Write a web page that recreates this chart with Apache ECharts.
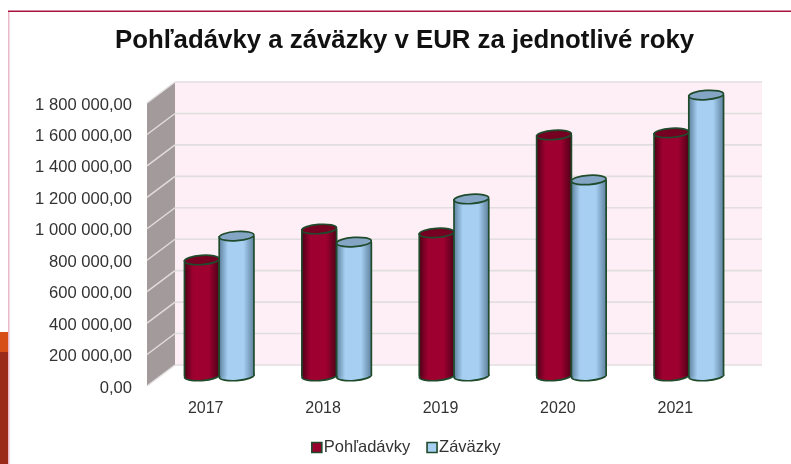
<!DOCTYPE html>
<html>
<head>
<meta charset="utf-8">
<style>html,body{margin:0;padding:0;background:#fff}#c{width:791px;height:464px;filter:blur(0.4px)}</style>
<script src="https://cdn.jsdelivr.net/npm/echarts@6/dist/echarts.min.js"></script>
</head>
<body>
<div id="c"></div>
<script>
const categories = ['2017', '2018', '2019', '2020', '2021'];
const pohladavky = [738000, 935000, 910000, 1533000, 1546000];
const zavazky = [890000, 852000, 1126000, 1247000, 1787000];
const tickValues = [0, 200000, 400000, 600000, 800000, 1000000, 1200000, 1400000, 1600000, 1800000];

const DEPTH_X = 28, DEPTH_Y = 21;   // wall depth in pixels
const BAR_DX = 13.5, BAR_DY = 10;   // cylinders stand mid-floor
const TILT = 0.07;                  // ellipse tilt of the 3D view

function fmt(v) {
  return String(v).replace(/\B(?=(\d{3})+$)/g, ' ') + ',00';
}
function grad(edge, mid) {
  return new echarts.graphic.LinearGradient(0, 0, 1, 0, [
    { offset: 0, color: edge }, { offset: 0.25, color: mid },
    { offset: 0.7, color: mid }, { offset: 1, color: edge }
  ]);
}
function cylinder(edge, mid, topColor, side) {
  return function (params, api) {
    const p = api.coord([api.value(0), api.value(1)]);
    const b = api.coord([api.value(0), 0]);
    const band = api.size([1, 0])[0];
    const rx = band * 0.148, ry = 4.6;
    const cx = p[0] + BAR_DX + side * band * 0.148;
    const yt = p[1] - BAR_DY, yb = b[1] - BAR_DY;
    const stroke = '#1f4b2c', lw = 1.7;
    return {
      type: 'group',
      children: [
        { type: 'ellipse', rotation: TILT, originX: cx, originY: yb, shape: { cx, cy: yb, rx, ry }, style: { fill: grad(edge, mid), stroke, lineWidth: lw } },
        { type: 'rect', shape: { x: cx - rx, y: yt, width: rx * 2, height: yb - yt }, style: { fill: grad(edge, mid) } },
        { type: 'line', shape: { x1: cx - rx, y1: yt, x2: cx - rx, y2: yb }, style: { stroke, lineWidth: lw } },
        { type: 'line', shape: { x1: cx + rx, y1: yt, x2: cx + rx, y2: yb }, style: { stroke, lineWidth: lw } },
        { type: 'ellipse', rotation: TILT, originX: cx, originY: yt, shape: { cx, cy: yt, rx, ry }, style: { fill: topColor, stroke, lineWidth: lw } }
      ]
    };
  };
}
function walls(params, api) {
  const r = params.coordSys;
  const children = [
    { type: 'rect', shape: { x: r.x + DEPTH_X, y: r.y - DEPTH_Y, width: r.width, height: r.height }, style: { fill: '#fdeff5' } },
    { type: 'polygon', shape: { points: [[r.x, r.y], [r.x + DEPTH_X, r.y - DEPTH_Y], [r.x + DEPTH_X, r.y + r.height - DEPTH_Y], [r.x, r.y + r.height]] }, style: { fill: '#a39a9b' } }
  ];
  tickValues.forEach(function (t) {
    const y = api.coord([0, t])[1];
    children.push({ type: 'line', shape: { x1: r.x + DEPTH_X, y1: y - DEPTH_Y, x2: r.x + DEPTH_X + r.width, y2: y - DEPTH_Y }, style: { stroke: '#e2dee0', lineWidth: 1.6 } });
    children.push({ type: 'line', shape: { x1: r.x, y1: y, x2: r.x + DEPTH_X, y2: y - DEPTH_Y }, style: { stroke: '#e2dee0', lineWidth: 1.4 } });
  });
  return { type: 'group', children };
}

const chart = echarts.init(document.getElementById('c'), null, { renderer: 'canvas' });
chart.setOption({
  animation: false,
  backgroundColor: '#fff',
  textStyle: { fontFamily: '"Liberation Sans", Arial, sans-serif' },
  title: {
    text: 'Pohľadávky a záväzky v EUR za jednotlivé roky',
    left: 404.5, top: 23, textAlign: 'center',
    textStyle: { fontSize: 25.8, fontWeight: 'bold', color: '#111', fontFamily: '"Liberation Sans", Arial, sans-serif' }
  },
  graphic: [
    { type: 'rect', silent: true, shape: { x: 0, y: 332, width: 8, height: 20 }, style: { fill: '#d84e17' } },
    { type: 'rect', silent: true, shape: { x: 0, y: 352, width: 8, height: 112 }, style: { fill: '#9a2b1a' } },
    { type: 'rect', silent: true, shape: { x: 8, y: 11, width: 1.5, height: 453 }, style: { fill: '#eab9c8' } },
    { type: 'rect', silent: true, shape: { x: 8, y: 10.5, width: 783, height: 1.5 }, style: { fill: '#a8123e' } }
  ],
  legend: {
    data: [
      { name: 'Pohľadávky', itemStyle: { color: '#98002e', borderColor: '#1f4b2c', borderWidth: 1.6 } },
      { name: 'Záväzky', itemStyle: { color: '#a6cff2', borderColor: '#1f4b2c', borderWidth: 1.6 } }
    ],
    left: 311, top: 439, icon: 'rect', itemWidth: 10, itemHeight: 10, itemGap: 16,
    padding: 0,
    textStyle: { fontSize: 16.5, color: '#333', padding: [0, 0, 0, -3] }
  },
  grid: { left: 147, top: 103, width: 587, height: 283 },
  xAxis: {
    type: 'category', data: categories,
    axisLine: { show: false }, axisTick: { show: false }, splitLine: { show: false },
    axisLabel: { fontSize: 16, color: '#333', margin: 15 }
  },
  yAxis: {
    type: 'value', min: 0, max: 1800000, interval: 200000,
    axisLine: { show: false }, axisTick: { show: false }, splitLine: { show: false },
    axisLabel: { fontSize: 16.6, color: '#333', margin: 15, verticalAlign: 'top', lineHeight: 4, formatter: fmt }
  },
  series: [
    { type: 'custom', name: 'walls', silent: true, clip: false, z: 1, renderItem: walls, data: [[0, 0]], encode: { x: 0, y: 1 } },
    { type: 'custom', name: 'Pohľadávky', clip: false, z: 2, itemStyle: { color: '#98002e' }, renderItem: cylinder('#4f0018', '#9e0030', '#760022', -1), data: categories.map((c, i) => [i, pohladavky[i]]), encode: { x: 0, y: 1 } },
    { type: 'custom', name: 'Záväzky', clip: false, z: 2, itemStyle: { color: '#a6cff2' }, renderItem: cylinder('#5f829e', '#a6cff2', '#85a5c4', 1), data: categories.map((c, i) => [i, zavazky[i]]), encode: { x: 0, y: 1 } }
  ]
}, true);
chart.setOption({ title: { left: 399.5 } });
</script>
</body>
</html>
